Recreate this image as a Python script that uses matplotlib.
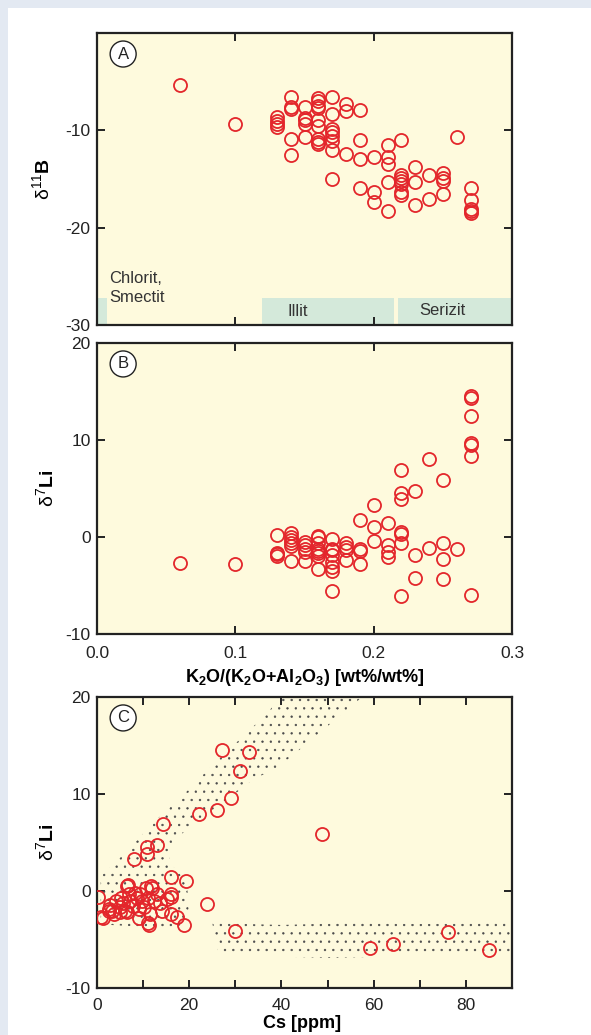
import matplotlib
matplotlib.use("Agg")
import matplotlib.pyplot as plt
from matplotlib.patches import Polygon, Rectangle

plt.rcParams['font.family'] = ['Liberation Sans', 'DejaVu Sans']
plt.rcParams['mathtext.fontset'] = 'custom'
plt.rcParams['mathtext.rm'] = 'Liberation Sans'
plt.rcParams['mathtext.it'] = 'Liberation Sans:italic'
plt.rcParams['mathtext.bf'] = 'Liberation Sans:bold'
plt.rcParams['hatch.linewidth'] = 0.45
plt.rcParams['axes.unicode_minus'] = False

# ---------------- data ----------------
# Panel A: K2O/(K2O+Al2O3) vs d11B
xA = [0.06, 0.10,
      0.13, 0.13, 0.13, 0.13,
      0.14, 0.14, 0.14, 0.14, 0.14,
      0.15, 0.15, 0.15, 0.15, 0.15,
      0.16, 0.16, 0.16, 0.16, 0.16, 0.16, 0.16, 0.16, 0.16,
      0.17, 0.17, 0.17, 0.17, 0.17, 0.17, 0.17, 0.17,
      0.18, 0.18, 0.18,
      0.19, 0.19, 0.19, 0.19,
      0.20, 0.20, 0.20,
      0.21, 0.21, 0.21, 0.21, 0.21,
      0.22, 0.22, 0.22, 0.22, 0.22, 0.22, 0.22,
      0.23, 0.23, 0.23,
      0.24, 0.24,
      0.25, 0.25, 0.25, 0.25,
      0.26,
      0.27, 0.27, 0.27, 0.27, 0.27]
yA = [-5.3, -9.4,
      -8.6, -9.0, -9.3, -9.7,
      -6.6, -7.6, -7.8, -10.9, -12.5,
      -7.6, -8.7, -8.9, -9.4, -10.7,
      -6.7, -7.0, -7.5, -7.7, -8.9, -9.6, -10.9, -11.2, -11.4,
      -6.6, -8.3, -9.9, -10.2, -10.6, -11.1, -12.0, -15.0,
      -7.3, -8.0, -12.4,
      -7.9, -11.0, -12.9, -15.9,
      -12.7, -16.3, -17.4,
      -11.5, -12.7, -13.5, -15.3, -18.3,
      -11.0, -14.6, -14.9, -15.2, -15.5, -16.3, -16.6,
      -13.8, -15.3, -17.7,
      -14.6, -17.1,
      -14.4, -14.9, -15.2, -16.5,
      -10.7,
      -15.9, -17.2, -18.1, -18.3, -18.5]

# Panel B: K2O/(K2O+Al2O3) vs d7Li
xB = [0.06, 0.10,
      0.13, 0.13, 0.13, 0.13,
      0.14, 0.14, 0.14, 0.14, 0.14, 0.14,
      0.15, 0.15, 0.15, 0.15, 0.15,
      0.16, 0.16, 0.16, 0.16, 0.16, 0.16, 0.16, 0.16,
      0.17, 0.17, 0.17, 0.17, 0.17, 0.17, 0.17, 0.17,
      0.18, 0.18, 0.18, 0.18,
      0.19, 0.19, 0.19, 0.19,
      0.20, 0.20, 0.20,
      0.21, 0.21, 0.21, 0.21,
      0.22, 0.22, 0.22, 0.22, 0.22, 0.22, 0.22,
      0.23, 0.23, 0.23,
      0.24, 0.24,
      0.25, 0.25, 0.25, 0.25,
      0.26,
      0.27, 0.27, 0.27, 0.27, 0.27, 0.27, 0.27]
yB = [-2.7, -2.8,
      0.2, -1.6, -1.8, -2.0,
      0.4, 0.0, -0.3, -0.65, -0.9, -2.45,
      -0.5, -0.8, -1.2, -1.5, -2.45,
      0.1, 0.0, -0.65, -1.2, -1.4, -1.7, -2.0, -3.3,
      -0.25, -1.2, -1.35, -1.85, -2.6, -3.1, -3.5, -5.55,
      -0.6, -1.0, -1.35, -2.4,
      1.8, -1.2, -1.4, -2.8,
      3.25, 1.05, -0.4,
      1.4, -0.8, -1.5, -2.1,
      6.9, 4.5, 3.9, 0.5, 0.3, -0.65, -6.1,
      4.7, -1.9, -4.2,
      8.0, -1.1,
      5.9, -0.65, -2.3, -4.3,
      -1.25,
      14.5, 14.35, 12.5, 9.7, 9.5, 8.4, -6.0]

# Panel C: Cs vs d7Li
xC = [0.2, 0.8, 1.2, 2.5, 2.7, 2.9, 3.3, 3.7, 4.1, 4.9, 4.9, 5.3, 5.7, 6.1, 6.5,
      6.5, 6.7, 7.0, 7.2, 7.8, 8.0, 8.2, 8.6, 9.0, 9.0, 9.4, 9.8, 10.2, 10.6,
      10.8, 10.8, 11.0, 11.0, 11.3, 11.5, 11.7, 11.9, 12.3, 13.1, 13.1, 13.7,
      14.1, 14.3, 15.1, 16.0, 16.0, 16.0, 16.1, 17.4, 18.8, 19.3, 22.1, 23.9,
      26.0, 27.1, 29.1, 30.0, 31.1, 33.0, 48.9, 59.1, 64.3, 76.1, 85.0]
yC = [-0.6, -2.65, -2.8, -1.9, -2.1, -1.45, -2.06, -2.4, -1.03, -1.7, -2.2, -0.7,
      -1.2, -2.06, 0.5, -2.2, 0.6, -0.34, -1.03, -1.55, 3.3, -0.17, -0.7, -1.9,
      -2.8, -0.34, -1.03, -1.7, 0.34, 3.8, 4.5, -0.7, -3.3, -3.5, -2.4, 0.5,
      0.34, -1.0, -0.34, 4.7, -1.2, -2.06, 6.9, -0.86, -0.34, -2.4, 1.45, -0.6,
      -2.65, -3.5, 1.0, 7.9, -1.3, 8.4, 14.5, 9.55, -4.1, 12.4, 14.3, 5.9, -5.9,
      -5.5, -4.2, -6.05]

# Stippled fields in panel C (outline in data units)
field1_cs = [0.8, 6.7, 12.1, 18.3, 25.1, 30.9, 36.4, 40.0, 57.5, 50.5, 43.0, 39.0,
             33.5, 26.0, 21.0, 17.0, 15.5, 19.5, 20.0, 17.0, 10.0, 3.0, 0.8]
field1_li = [1.5, 4.2, 7.0, 9.7, 13.0, 15.6, 18.1, 20.0, 20.0, 17.2, 14.2, 12.7,
             11.4, 8.5, 7.0, 5.3, 3.0, 1.0, -3.0, -3.8, -3.7, -3.5, -3.0]
field2_cs = [25.0, 40.0, 55.0, 70.0, 90.0, 90.0, 70.0, 50.0, 35.0, 26.5]
field2_li = [-3.3, -3.5, -3.3, -3.4, -3.3, -6.8, -6.7, -6.9, -6.7, -6.7]

# Mineral zones in panel A
zone_x0 = [0.0, 0.119, 0.2178]
zone_x1 = [0.0075, 0.2144, 0.3]
zone_top = -27.25
zone_names = ["Chlorit,\nSmectit", "Illit", "Serizit"]

# ---------------- styling ----------------
FIG_BG = '#e3e9f2'
AX_BG = '#fefadd'
ZONE_C = '#d4e9da'
RED = '#e3262b'
W, H = 591, 1035

fig = plt.figure(figsize=(W / 100, H / 100), dpi=100, facecolor=FIG_BG)
fig.patches.append(Rectangle((8 / W, 0), 1, 1 - 8 / H, transform=fig.transFigure,
                             facecolor='white', edgecolor='none', zorder=-10))

def ax_rect(top_px, bot_px, left_px=97, right_px=512):
    return [left_px / W, 1 - bot_px / H, (right_px - left_px) / W, (bot_px - top_px) / H]

axA = fig.add_axes(ax_rect(33, 325))
axB = fig.add_axes(ax_rect(343, 634))
axC = fig.add_axes(ax_rect(697, 988))

for ax in (axA, axB, axC):
    ax.set_facecolor(AX_BG)
    for s in ax.spines.values():
        s.set_linewidth(1.6)
        s.set_color('#222222')
    ax.tick_params(direction='in', length=6, width=1.4, top=True, right=True,
                   labelsize=12.5, colors='#222222')
    ax.tick_params(axis='y', pad=4.5)

axB.tick_params(axis='x', pad=9)
axC.tick_params(axis='x', pad=7)

def circ_label(ax, letter):
    ax.text(0.063, 0.928, letter, transform=ax.transAxes, ha='center', va='center',
            fontsize=12, color='#222222',
            bbox=dict(boxstyle='circle,pad=0.33', facecolor='white',
                      edgecolor='#222222', linewidth=1.0), zorder=6)

mk = dict(marker='o', linestyle='none', markersize=9.4, markerfacecolor='none',
          markeredgecolor=RED, markeredgewidth=1.3, zorder=5)

# Panel A
for x0, x1 in zip(zone_x0, zone_x1):
    axA.add_patch(Rectangle((x0, -30), x1 - x0, zone_top + 30, facecolor=ZONE_C,
                            edgecolor='none', zorder=1))
axA.text(0.009, -24.5, zone_names[0], ha='left', va='top', fontsize=12,
         color='#333333', linespacing=1.28, zorder=3)
axA.text(0.145, -28.6, zone_names[1], ha='center', va='center', fontsize=12,
         color='#333333', zorder=3)
axA.text(0.25, -28.5, zone_names[2], ha='center', va='center', fontsize=12,
         color='#333333', zorder=3)
axA.plot(xA, yA, **mk)
axA.set_xlim(0, 0.3)
axA.set_ylim(-30, 0)
axA.set_xticks([0.1, 0.2])
axA.set_xticklabels([])
axA.set_yticks([-10, -20, -30])
axA.set_ylabel(r'δ$^{11}\mathbf{B}$', fontsize=14)
axA.yaxis.set_label_coords(-0.105, 0.5)
circ_label(axA, 'A')

# Panel B
axB.plot(xB, yB, **mk)
axB.set_xlim(0, 0.3)
axB.set_ylim(-10, 20)
axB.set_xticks([0.0, 0.1, 0.2, 0.3])
axB.set_xticklabels(['0.0', '0.1', '0.2', '0.3'])
axB.set_yticks([-10, 0, 10, 20])
axB.set_ylabel(r'δ$^{7}\mathbf{Li}$', fontsize=14)
axB.yaxis.set_label_coords(-0.097, 0.5)
axB.set_xlabel(r'$\mathbf{K_2O/(K_2O{+}Al_2O_3)\ [wt\%/wt\%]}$', fontsize=13)
axB.xaxis.set_label_coords(0.5, -0.115)
circ_label(axB, 'B')

# Panel C
axC.add_patch(Polygon(list(zip(field1_cs, field1_li)), closed=True, facecolor='none',
                      edgecolor='#4a4a4a', linewidth=0, hatch='..', zorder=2))
axC.add_patch(Polygon(list(zip(field2_cs, field2_li)), closed=True, facecolor='none',
                      edgecolor='#4a4a4a', linewidth=0, hatch='..', zorder=2))
axC.plot(xC, yC, **mk)
axC.set_xlim(0, 90)
axC.set_ylim(-10, 20)
axC.set_xticks(range(0, 91, 10))
axC.set_xticklabels(['0', '', '20', '', '40', '', '60', '', '80', ''])
axC.set_yticks([-10, 0, 10, 20])
axC.set_ylabel(r'δ$^{7}\mathbf{Li}$', fontsize=14)
axC.yaxis.set_label_coords(-0.097, 0.5)
axC.set_xlabel('Cs [ppm]', fontsize=13, fontweight='bold')
axC.xaxis.set_label_coords(0.495, -0.092)
circ_label(axC, 'C')

fig.savefig('out.png', dpi=100, facecolor=FIG_BG)
